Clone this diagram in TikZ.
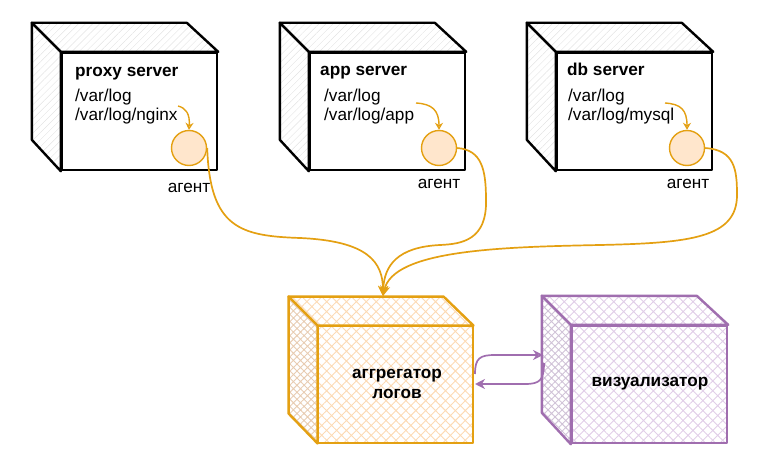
\documentclass[tikz,border=0pt]{standalone}
\usepackage{fontspec}
\setmainfont{Liberation Sans}
\usetikzlibrary{patterns.meta,arrows.meta,backgrounds}
\definecolor{agentorange}{RGB}{228,160,18}
\definecolor{agentfill}{RGB}{255,230,204}
\definecolor{vispurple}{RGB}{160,110,175}
\definecolor{hatchorange}{RGB}{252,218,180}
\definecolor{hatchorangedark}{RGB}{232,204,178}
\definecolor{hatchpurple}{RGB}{225,206,232}
\definecolor{hatchpurpledark}{RGB}{208,194,215}
\newcommand\cubeback[3]{%
  \draw[#2] (#1.north west) -- ++(-29,-29) -- ++(155,0) -- (#1.north east) -- cycle;
  \draw[#3] (#1.north west) -- ++(-29,-29) -- ++(0,117) -- (#1.south west) -- cycle;}
\begin{document}
\begin{tikzpicture}[x=1pt,y=-1pt,
  txt/.style={font=\fontsize{17.2}{20}\selectfont, inner sep=0pt},
  bold/.style={font=\fontsize{17.2}{20}\selectfont\bfseries, inner sep=0pt},
  frontface/.style={minimum width=155pt, minimum height=117pt, inner sep=0pt, line width=2.4pt, line join=round},
  serverfront/.style={frontface, draw=black, fill=white},
  serverface/.style={draw=black, line width=2.4pt, line join=round, pattern={Lines[angle=45,distance=5pt,line width=0.45pt]}, pattern color=black!11},
  aggfront/.style={frontface, draw=agentorange, pattern={Hatch[angle=45,distance=7pt,line width=0.9pt]}, pattern color=hatchorange},
  aggtop/.style={draw=agentorange, line width=2.4pt, line join=round, pattern={Hatch[angle=45,distance=7pt,line width=0.9pt]}, pattern color=hatchorange},
  aggside/.style={draw=agentorange, line width=2.4pt, line join=round, pattern={Hatch[angle=45,distance=5pt,line width=0.9pt]}, pattern color=hatchorangedark},
  visfront/.style={frontface, draw=vispurple, pattern={Hatch[angle=45,distance=7pt,line width=0.9pt]}, pattern color=hatchpurple},
  vistop/.style={draw=vispurple, line width=2.4pt, line join=round, pattern={Hatch[angle=45,distance=7pt,line width=0.9pt]}, pattern color=hatchpurple},
  visside/.style={draw=vispurple, line width=2.4pt, line join=round, pattern={Hatch[angle=45,distance=5pt,line width=0.9pt]}, pattern color=hatchpurpledark},
  agent/.style={circle, draw=agentorange, fill=agentfill, line width=1.4pt, minimum size=35pt, inner sep=0pt},
  flow/.style={draw=agentorange, line width=1.7pt, -{Stealth[open, length=10pt, width=10pt]}},
  smallflow/.style={draw=agentorange, line width=1.4pt, -{Stealth[open, length=7pt, width=8pt]}},
  visflow/.style={draw=vispurple, line width=1.7pt, -{Stealth[open, length=10pt, width=10pt]}}]
\useasboundingbox (0,0) rectangle (759,470);

% server boxes
\node[serverfront] (proxy) at (139.5,111.5) {};
\node[serverfront] (app) at (387.5,111.5) {};
\node[serverfront] (db) at (634.5,111.5) {};
% aggregator and visualizer
\node[aggfront] (agg) at (395.5,384.5) {};
\node[visfront] (vis) at (649.5,384.5) {};

\begin{scope}[on background layer]
  \cubeback{proxy}{serverface}{serverface}
  \cubeback{app}{serverface}{serverface}
  \cubeback{db}{serverface}{serverface}
  \cubeback{agg}{aggtop}{aggside}
  \cubeback{vis}{vistop}{visside}
\end{scope}

% texts
\node[bold, anchor=base west] (proxytitle) at (75,77) {proxy server};
\node[txt, anchor=base west] (proxylog) at (75,102) {/var/log};
\node[txt, anchor=base west] (proxynginx) at (75,121) {/var/log/nginx};
\node[bold, anchor=base west] (apptitle) at (320,76) {app server};
\node[txt, anchor=base west] (applog) at (324,102) {/var/log};
\node[txt, anchor=base west] (appapp) at (324,121) {/var/log/app};
\node[bold, anchor=base west] (dbtitle) at (567,76) {db server};
\node[txt, anchor=base west] (dblog) at (568,102) {/var/log};
\node[txt, anchor=base west] (dbmysql) at (568,121) {/var/log/mysql};

\node[bold, align=center] (aggtext) at (397,384) {аггрегатор\\[0pt]логов};
\node[bold] (vistext) at (650,384) {визуализатор};

% agents
\node[agent] (proxyagent) at (189,148) {};
\node[agent] (appagent) at (439,148) {};
\node[agent] (dbagent) at (687,148) {};
\node[txt, anchor=base] (proxylabel) at (189,193) {агент};
\node[txt, anchor=base] (applabel) at (439,189) {агент};
\node[txt, anchor=base] (dblabel) at (688,189) {агент};

% small arrows
\coordinate (proxysrc) at (178,106);
\coordinate (appsrc) at (416,103);
\coordinate (dbsrc) at (665,103);
\draw[smallflow] (proxysrc) .. controls (186,108) and (190,114) .. (proxyagent.north);
\draw[smallflow] (appsrc) .. controls (432,104) and (439,110) .. (appagent.north);
\draw[smallflow] (dbsrc) .. controls (681,104) and (687,110) .. (dbagent.north);

% agent flows
\coordinate (aggin) at (383,296);
\draw[flow] (proxyagent.east) .. controls (210,228) and (240,236) .. (300,238)
  .. controls (368,241) and (383,262) .. (aggin);
\draw[flow] (appagent.east) .. controls (482,150) and (486,170) .. (486,200)
  .. controls (487,240) and (462,244) .. (440,245)
  .. controls (398,247) and (384,265) .. (aggin);
\draw[flow] (dbagent.east) .. controls (735,150) and (737,170) .. (737,195)
  .. controls (737,238) and (690,243) .. (600,245)
  .. controls (500,247) and (393,250) .. (aggin);

% aggregator <-> visualizer
\coordinate (aggout) at (475,374);
\coordinate (aggin2) at (475,384);
\coordinate (visin) at (543,355);
\coordinate (visout) at (544,363);
\draw[visflow] (aggout) .. controls (475,358) and (480,355) .. (495,355) -- (visin);
\draw[visflow] (visout) .. controls (544,380) and (540,384) .. (525,384) -- (aggin2);
\end{tikzpicture}
\end{document}
